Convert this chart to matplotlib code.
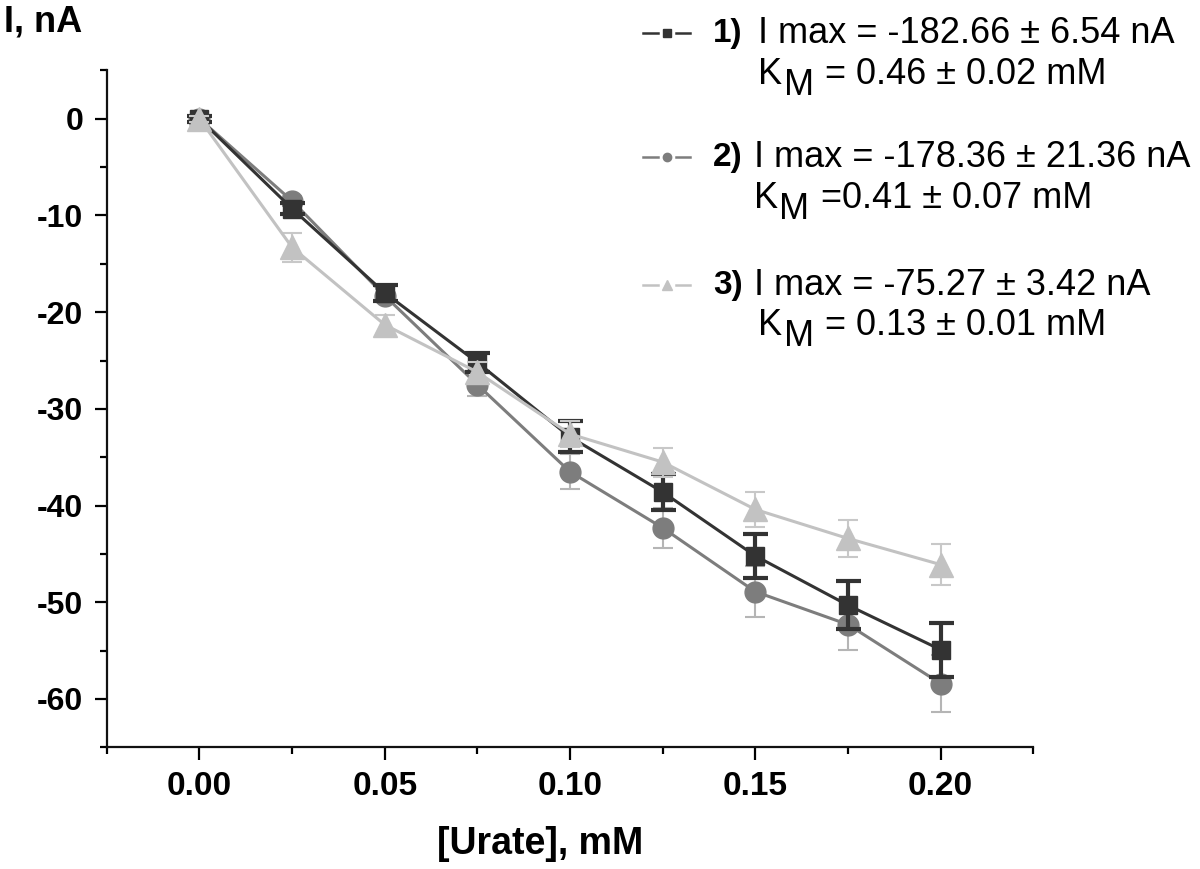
import matplotlib
matplotlib.use("Agg")
import matplotlib.pyplot as plt
from matplotlib.lines import Line2D
import matplotlib.transforms as mtrans

# urate concentration, mM
urate = [0.0, 0.025, 0.05, 0.075, 0.10, 0.125, 0.15, 0.175, 0.20]

# current, nA
i1 = [0.0, -9.3, -18.0, -25.2, -32.9, -38.6, -45.2, -50.3, -54.9]
i2 = [0.0, -8.5, -18.3, -27.5, -36.5, -42.3, -48.9, -52.3, -58.4]
i3 = [0.0, -13.3, -21.3, -26.2, -32.6, -35.5, -40.4, -43.4, -46.1]
e1 = [0.3, 0.6, 0.8, 1.0, 1.6, 1.9, 2.3, 2.5, 2.8]
e2 = [0.3, 0.5, 0.7, 1.2, 1.8, 2.1, 2.6, 2.6, 2.9]
e3 = [0.3, 1.5, 1.0, 1.0, 1.3, 1.5, 1.8, 1.9, 2.1]

tags = ["1)", "2)", "3)"]
imax_txt = ["I max = -182.66 \u00b1 6.54 nA",
            "I max = -178.36 \u00b1 21.36 nA",
            "I max = -75.27 \u00b1 3.42 nA"]
km_txt = [" = 0.46 \u00b1 0.02 mM",
          " =0.41 \u00b1 0.07 mM",
          " = 0.13 \u00b1 0.01 mM"]

c1 = "#333333"
c2 = "#7d7d7d"
c3 = "#c2c2c2"

plt.rcParams['font.family'] = ['Liberation Sans', 'DejaVu Sans']
plt.rcParams['axes.unicode_minus'] = False

fig = plt.figure(figsize=(12, 8.69), dpi=100)
ax = fig.add_axes([0.089, 0.14, 0.772, 0.779])

# series 2 (circles)
ax.errorbar(urate, i2, yerr=e2, color=c2, marker='o', ms=15, lw=2.2,
            ecolor="#b5b5b5", elinewidth=1.5, capsize=7, capthick=1.5, zorder=3)
# series 1 (squares)
ax.errorbar(urate, i1, yerr=e1, color=c1, marker='s', ms=13, lw=2.2,
            ecolor=c1, elinewidth=3, capsize=9, capthick=3, zorder=4)
# series 3 (triangles)
ax.errorbar(urate, i3, yerr=e3, color=c3, marker='^', ms=17, lw=2.2,
            ecolor="#c8c8c8", elinewidth=1.5, capsize=7, capthick=1.5, zorder=5)

ax.set_xlim(-0.025, 0.225)
ax.set_ylim(-65, 5)
ax.set_xticks([0.0, 0.05, 0.10, 0.15, 0.20])
ax.set_xticks([-0.025, 0.025, 0.075, 0.125, 0.175, 0.225], minor=True)
ax.set_yticks([0, -10, -20, -30, -40, -50, -60])
ax.set_yticks([5, -5, -15, -25, -35, -45, -55, -65], minor=True)
ax.set_xticklabels(["0.00", "0.05", "0.10", "0.15", "0.20"])

for s in ['top', 'right']:
    ax.spines[s].set_visible(False)
for s in ['left', 'bottom']:
    ax.spines[s].set_linewidth(1.6)
    ax.spines[s].set_color("#111111")

ax.tick_params(which='major', length=9, width=1.6, direction='out')
ax.tick_params(which='minor', length=5, width=1.6, direction='out')
ax.tick_params(axis='y', pad=8)
ax.tick_params(axis='x', pad=8)
for t in ax.get_yticklabels():
    t.set_fontsize(23)
    t.set_fontweight('bold')
for t in ax.get_xticklabels():
    t.set_fontsize(24)
    t.set_fontweight('bold')

fig.text(0.003, 0.975, "I, nA", fontsize=26, fontweight='bold', va='center', ha='left')
fig.text(0.45, 0.029, "[Urate], mM", fontsize=27, fontweight='bold', ha='center', va='center')

# hand-made legend
ypos = [0.962, 0.819, 0.672]
kpos = [0.914, 0.772, 0.626]
xtext = [0.632, 0.628, 0.628]
xk = [0.632, 0.628, 0.632]
specs = [(c1, 's', 6), (c2, 'o', 6), (c3, '^', 7)]
low = mtrans.offset_copy(fig.transFigure, fig=fig, x=0, y=-11, units='dots')
for k in range(3):
    col, mk, msz = specs[k]
    y = ypos[k]
    fig.add_artist(Line2D([0.536, 0.548], [y, y], color=col, lw=1.8, transform=fig.transFigure))
    fig.add_artist(Line2D([0.563, 0.575], [y, y], color=col, lw=1.8, transform=fig.transFigure))
    fig.add_artist(Line2D([0.5555], [y], color=col, marker=mk, ms=msz, lw=0, transform=fig.transFigure))
    fig.text(0.594, y, tags[k], fontsize=24, fontweight='bold', va='center', ha='left')
    fig.text(xtext[k], y, imax_txt[k], fontsize=26, va='center', ha='left')
    fig.text(xk[k], kpos[k], "K", fontsize=26, va='center', ha='left')
    fig.text(xk[k] + 0.0215, kpos[k], "M", fontsize=26, va='center', ha='left', transform=low)
    fig.text(xk[k] + 0.0475, kpos[k], km_txt[k], fontsize=26, va='center', ha='left')

fig.savefig("out.png", dpi=100)
